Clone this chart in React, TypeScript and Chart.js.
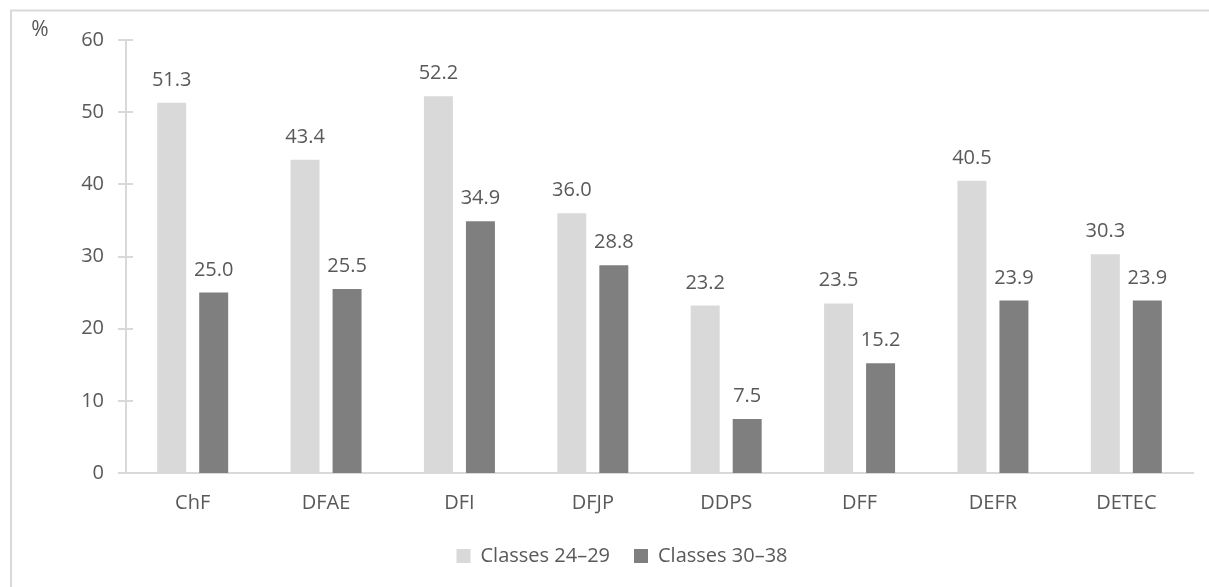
import React, { useEffect, useRef } from "react";
import { Chart, registerables } from "chart.js";

Chart.register(...registerables);

const categories = ["ChF", "DFAE", "DFI", "DFJP", "DDPS", "DFF", "DEFR", "DETEC"];
const classes24to29 = [51.3, 43.4, 52.2, 36.0, 23.2, 23.5, 40.5, 30.3];
const classes30to38 = [25.0, 25.5, 34.9, 28.8, 7.5, 15.2, 23.9, 23.9];
const seriesNames = ["Classes 24\u201329", "Classes 30\u201338"];
const yTicks = [0, 10, 20, 30, 40, 50, 60];
const unitLabel = "%";

const FONT = "'Open Sans', 'Noto Sans', sans-serif";
const TEXT = "#595959";
const AXIS = "#d9d9d9";
const LIGHT = "#d9d9d9";
const DARK = "#7f7f7f";

// Frame, unit label, crossing tick marks and value labels
const decorations = {
  id: "decorations",
  beforeDraw(chart: any) {
    const { ctx } = chart;
    ctx.save();
    ctx.fillStyle = "#ffffff";
    ctx.fillRect(0, 0, chart.width, chart.height);
    ctx.strokeStyle = AXIS;
    ctx.lineWidth = 2;
    ctx.strokeRect(11, 10.5, chart.width + 40, chart.height + 40);
    ctx.restore();
  },
  afterDraw(chart: any) {
    const { ctx } = chart;
    const y = chart.scales.y;
    const axisX = chart.chartArea.left;
    ctx.save();
    ctx.strokeStyle = AXIS;
    ctx.lineWidth = 2;
    for (const v of yTicks) {
      const py = Math.round(y.getPixelForValue(v));
      ctx.beginPath();
      ctx.moveTo(axisX - 8, py);
      ctx.lineTo(axisX + 7, py);
      ctx.stroke();
    }
    ctx.fillStyle = TEXT;
    ctx.font = `21px ${FONT}`;
    ctx.textAlign = "center";
    ctx.textBaseline = "middle";
    ctx.fillText(unitLabel, 40, 30);

    ctx.textBaseline = "alphabetic";
    ctx.font = `20px ${FONT}`;
    chart.data.datasets.forEach((ds: any, i: number) => {
      const meta = chart.getDatasetMeta(i);
      meta.data.forEach((bar: any, j: number) => {
        ctx.fillText(Number(ds.data[j]).toFixed(1), bar.x, bar.y - 17);
      });
    });
    ctx.restore();
  },
};

export default function App() {
  const ref = useRef<HTMLCanvasElement>(null);

  useEffect(() => {
    if (!ref.current) return;
    const chart = new Chart(ref.current, {
      type: "bar",
      data: {
        labels: categories,
        datasets: [
          {
            label: seriesNames[0],
            data: classes24to29,
            backgroundColor: LIGHT,
            categoryPercentage: 0.63,
            barPercentage: 0.69,
          },
          {
            label: seriesNames[1],
            data: classes30to38,
            backgroundColor: DARK,
            categoryPercentage: 0.63,
            barPercentage: 0.69,
          },
        ],
      },
      options: {
        responsive: false,
        animation: false,
        layout: { padding: { top: 40, left: 51, right: 16, bottom: 11 } },
        scales: {
          x: {
            grid: { display: false, drawTicks: false },
            border: { display: true, color: AXIS, width: 2 },
            ticks: { color: TEXT, font: { family: FONT, size: 20 }, padding: 18 },
            afterFit: (s: any) => {
              s.height = 49;
            },
          },
          y: {
            min: 0,
            max: 60,
            grid: { display: false, drawTicks: false },
            border: { display: true, color: AXIS, width: 2 },
            ticks: {
              stepSize: 10,
              color: TEXT,
              font: { family: FONT, size: 20 },
              padding: 22,
            },
            afterFit: (s: any) => {
              s.width = 75;
            },
          },
        },
        plugins: {
          tooltip: { enabled: false },
          legend: {
            position: "bottom",
            labels: {
              color: TEXT,
              font: { family: FONT, size: 20 },
              boxWidth: 14,
              boxHeight: 14,
              padding: 24,
            },
          },
        },
      },
      plugins: [decorations],
    });
    return () => chart.destroy();
  }, []);

  return (
    <div style={{ position: "absolute", left: 0, top: 0, width: 1209, height: 587 }}>
      <canvas ref={ref} width={1209} height={587} />
    </div>
  );
}
